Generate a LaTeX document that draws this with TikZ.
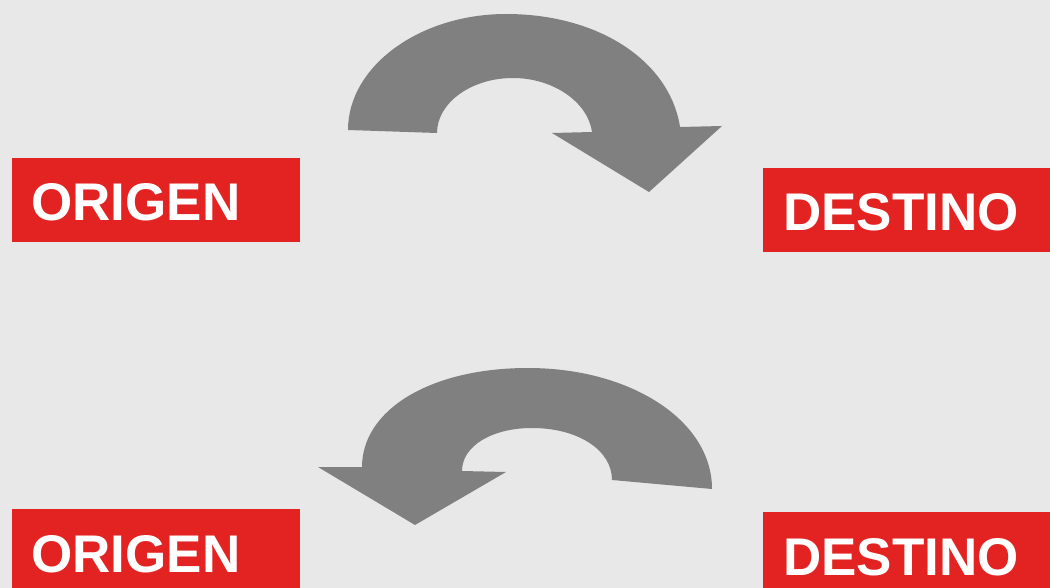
\documentclass[tikz,border=0pt]{standalone}
\usepackage{fontspec}
\setmainfont{Liberation Sans}
\definecolor{bg}{HTML}{E8E8E8}
\definecolor{boxred}{HTML}{E32222}
\definecolor{arrowgray}{HTML}{808080}
\begin{document}
\begin{tikzpicture}[x=1pt,y=-1pt,
  redbox/.style={fill=boxred, draw=none, rectangle, inner sep=0pt, anchor=north west},
  lbl/.style={text=white, font=\fontsize{53}{60}\selectfont\bfseries, inner sep=0pt, anchor=base west},
  bigarrow/.style={fill=arrowgray, draw=none}]
\fill[bg] (0,0) rectangle (1050,588);
\useasboundingbox (0,0) rectangle (1050,588);

% top boxes
\node[redbox, minimum width=288pt, minimum height=84pt] (o1) at (12,158) {};
\node[lbl] (o1t) at (31,221) {ORIGEN};
\node[redbox, minimum width=287pt, minimum height=84pt] (d1) at (763,168) {};
\node[lbl] (d1t) at (783,231) {DESTINO};

% bottom boxes
\node[redbox, minimum width=288pt, minimum height=84pt] (o2) at (12,509) {};
\node[lbl] (o2t) at (31,572) {ORIGEN};
\node[redbox, minimum width=287pt, minimum height=84pt] (d2) at (763,512) {};
\node[lbl] (d2t) at (783,575) {DESTINO};

% top arrow (clockwise, pointing right-down)
\fill[bigarrow] (348,130)
  .. controls (348,66) and (420,14) .. (506,14)
  .. controls (600,14) and (670,62) .. (680,127)
  -- (722,126) -- (649,192) -- (552,133) -- (592,132)
  .. controls (588,102) and (553,78) .. (513,78)
  .. controls (471,78) and (437,103) .. (437,133)
  -- cycle;

% bottom arrow (counter-clockwise, pointing left-down)
\fill[bigarrow] (712,489)
  .. controls (712,420) and (630,368) .. (528,368)
  .. controls (430,368) and (362,410) .. (362,467)
  -- (318,467) -- (415,525) -- (506,472) -- (462,471)
  .. controls (462,446) and (492,428) .. (532,428)
  .. controls (578,428) and (612,450) .. (612,480)
  -- cycle;
\end{tikzpicture}
\end{document}
